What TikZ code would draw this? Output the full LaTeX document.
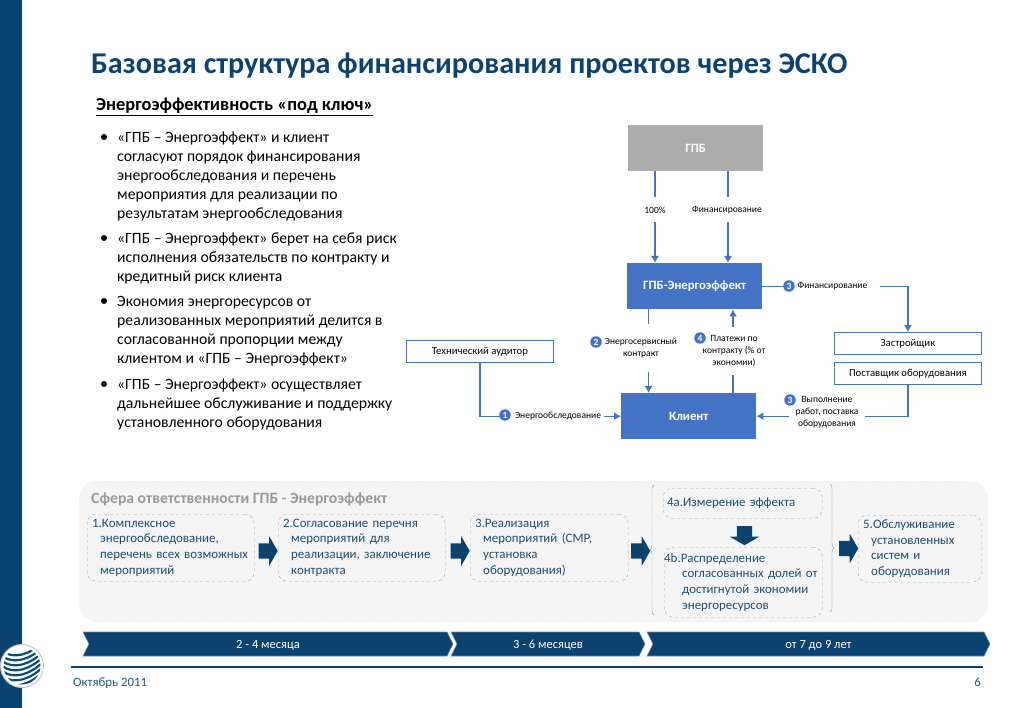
\documentclass[tikz,border=0pt]{standalone}
\usepackage{fontspec}
\setmainfont{Carlito}
\usepackage{xcolor}
\usetikzlibrary{arrows.meta,shapes.arrows,patterns,decorations.pathreplacing}
\definecolor{navy}{HTML}{0B426F}
\definecolor{boxblue}{HTML}{4472C4}
\definecolor{steptext}{HTML}{1D4F6E}
\newcommand{\hng}{\hspace*{8pt}}
\tikzset{
  mainbox/.style={fill=boxblue, text=white, font=\fontsize{12.7}{14}\selectfont\bfseries, minimum width=135, minimum height=46, anchor=north west},
  partybox/.style={draw=boxblue, thick, fill=white, font=\fontsize{10.7}{12}\selectfont, minimum width=147, minimum height=22, anchor=north west},
  flow/.style={->, color=boxblue, line width=1.2pt},
  flowlabel/.style={fill=white, inner sep=0pt, align=center, font=\fontsize{9.5}{12}\selectfont},
  numdot/.style={circle, fill=boxblue, text=white, inner sep=0pt, minimum size=11.5, font=\fontsize{9.5}{10}\selectfont\bfseries},
  bulletdot/.style={circle, fill=black, inner sep=0pt, minimum size=6},
  bullettext/.style={anchor=north west, inner sep=0pt, align=left, font=\fontsize{15.7}{19}\selectfont},
  stepbox/.style={draw=gray!70, dashed, rounded corners=9, anchor=north west, inner xsep=5pt, inner ysep=0pt, align=left, text=steptext, font=\fontsize{12.9}{15.7}\selectfont},
  steparrow/.style={single arrow, fill=navy, inner xsep=0pt, inner ysep=7.5pt, single arrow tip angle=120, single arrow head indent=0pt, minimum height=19, minimum width=28},
  barlabel/.style={text=white, font=\fontsize{12.5}{14}\selectfont}
}
\begin{document}
\begin{tikzpicture}[x=1pt, y=-1pt, >={Latex[length=7pt,width=8pt]}]
\useasboundingbox (0,0) rectangle (1023,708);

% strip and logo
\fill[navy] (0,0) rectangle (22,708);
\draw[fill=white, draw=gray!45, line width=1pt] (22,666) circle (21.5);
\begin{scope}
\clip (22,666) circle (18.5);
\foreach \d in {-15,-10,-5,0,5,10,15}
  \draw[navy!80!teal, line width=2.2pt] (2,666+\d) .. controls (14,666+\d+9) and (30,666+\d+3) .. (42,666+\d-8);
\end{scope}

% heading
\node[anchor=base west, inner sep=0pt, text=navy, font=\fontsize{30.2}{34}\selectfont\bfseries] (title) at (91,74) {Базовая структура финансирования проектов через ЭСКО};
\node[anchor=base west, inner sep=0pt, font=\fontsize{18.4}{22}\selectfont\bfseries] (subtitle) at (96,111) {\underline{Энергоэффективность «под ключ»}};

% bullets
\node[bulletdot] (b1) at (104,137) {};
\node[bullettext] (t1) at (117,132) {«ГПБ – Энергоэффект» и клиент\\согласуют порядок финансирования\\энергообследования и перечень\\мероприятия для реализации по\\результатам энергообследования};
\node[bulletdot] (b2) at (104,238) {};
\node[bullettext] (t2) at (117,233) {«ГПБ – Энергоэффект» берет на себя риск\\исполнения обязательств по контракту и\\кредитный риск клиента};
\node[bulletdot] (b3) at (104,301) {};
\node[bullettext] (t3) at (117,296) {Экономия энергоресурсов от\\реализованных мероприятий делится в\\согласованной пропорции между\\клиентом и «ГПБ – Энергоэффект»};
\node[bulletdot] (b4) at (104,384) {};
\node[bullettext] (t4) at (117,379) {«ГПБ – Энергоэффект» осуществляет\\дальнейшее обслуживание и поддержку\\установленного оборудования};

% parties
\node[mainbox, fill=gray!65] (gpb) at (628,125) {ГПБ};
\node[mainbox] (gpbe) at (627,263) {ГПБ-Энергоэффект};
\node[mainbox] (client) at (621,393) {Клиент};
\node[partybox] (audit) at (406,340) {Технический аудитор};
\node[partybox] (builder) at (834,332) {Застройщик};
\node[partybox] (vendor) at (834,362) {Поставщик оборудования};

\coordinate (c100) at (655,240);
\coordinate (cfin) at (728,240);
\coordinate (ctwo) at (648.5,350);
\coordinate (cfour) at (733,350);

\draw[flow] (c100 |- gpb.south) -- (c100 |- gpbe.north);
\draw[flow] (cfin |- gpb.south) -- (cfin |- gpbe.north);
\draw[flow] (gpbe.east) -| (builder.north);
\draw[flow] (ctwo |- gpbe.south) -- (ctwo |- client.north);
\draw[flow] (cfour |- client.north) -- (cfour |- gpbe.south);
\draw[flow] (vendor.south) |- (client.east);
\draw[flow] (audit.south) |- (client.west);

% labels over the lines
\node[flowlabel, minimum width=30, minimum height=25] (l100) at (655,210) {100\%};
\node[flowlabel, minimum height=25] (lfin) at (727,210) {Финансирование};
\node[flowlabel, minimum width=88, minimum height=20] (lfin2) at (836,286) {\hspace*{-7pt}Финансирование};
\node[flowlabel, minimum height=48] (ltwo) at (641,348) {Энергосервисный\\контракт};
\node[flowlabel, minimum height=48] (lfour) at (734,351) {Платежи по\\контракту (\% от\\экономии)};
\node[flowlabel, minimum width=76] (lthree) at (827,412) {Выполнение\\работ, поставка\\оборудования};
\node[flowlabel, minimum width=96, minimum height=14] (lone) at (556,416) {\hspace*{4pt}Энергообследование};

\node[numdot] (n1) at (505,415) {1};
\node[numdot] (n2) at (596,342) {2};
\node[numdot] (n3) at (789,286) {3};
\node[numdot] (n4) at (700,338) {4};
\node[numdot] (n5) at (790,400) {3};

% responsibility panel
\fill[gray!12, rounded corners=18] (79,481) rectangle (988,622);
\fill[pattern=north west lines, pattern color=white, rounded corners=18] (79,481) rectangle (988,622);
\node[anchor=base west, inner sep=0pt, text=gray!80, font=\fontsize{15.7}{18}\selectfont\bfseries] (scope) at (91,503) {Сфера ответственности ГПБ - Энергоэффект};

\node[stepbox, minimum width=167, minimum height=67, text width=157] (s1) at (87,514) {1.Комплексное\\\hng энергообследование,\\\hng перечень всех возможных\\\hng мероприятий};
\node[stepbox, minimum width=167, minimum height=67, text width=157] (s2) at (278,514) {2.Согласование перечня\\\hng мероприятий для\\\hng реализации, заключение\\\hng контракта};
\node[stepbox, minimum width=158, minimum height=67, text width=148] (s3) at (470,514) {3.Реализация\\\hng мероприятий (СМР,\\\hng установка\\\hng оборудования)};
\node[stepbox, minimum width=159, minimum height=30, text width=151, inner xsep=4pt] (s4a) at (663,488) {4a.Измерение эффекта};
\node[stepbox, minimum width=158, minimum height=70, text width=158, inner xsep=0pt] (s4b) at (664,547) {4b.Распределение\\\hspace*{18pt}согласованных долей от\\\hspace*{18pt}достигнутой экономии\\\hspace*{18pt}энергоресурсов};
\node[stepbox, minimum width=123, minimum height=67, text width=113] (s5) at (858,515) {5.Обслуживание\\\hng установленных\\\hng систем и\\\hng оборудования};

\node[steparrow] (a1) at (266,551) {};
\node[steparrow] (a2) at (458,551) {};
\node[steparrow] (a3) at (638.5,551) {};
\node[steparrow] (a4) at (846.5,548.5) {};
\node[steparrow, rotate=-90, minimum width=29] (a5) at (744.5,533.5) {};

\draw[gray!80, decorate, decoration={brace, amplitude=4pt}] (654,615) -- (654,485);
\draw[gray!80, decorate, decoration={brace, amplitude=4pt}] (830,484) -- (830,612);

% time bars
\foreach \lx/\rx/\nm/\txt in {83/453/bar1/2 - 4 месяца, 451/645/bar2/3 - 6 месяцев, 647/990/bar3/от 7 до 9 лет}{
  \draw[fill=navy, draw=navy!60!white, line width=0.6pt] (\lx,632) -- (\rx-6,632) -- (\rx,644) -- (\rx-6,656) -- (\lx,656) -- (\lx+6,644) -- cycle;
  \node[barlabel] (\nm) at ({(\lx+\rx)/2},645) {\txt};
}

% footer
\coordinate (footl) at (71,667);
\coordinate (footr) at (983,667);
\draw[navy, line width=1.3pt] (footl) -- (footr);
\node[anchor=base west, inner sep=0pt, text=navy!90, font=\fontsize{12.8}{14}\selectfont] (date) at (73,686) {Октябрь 2011};
\node[anchor=base east, inner sep=0pt, text=navy!90, font=\fontsize{12.8}{14}\selectfont] (page) at (981,686) {6};
\end{tikzpicture}
\end{document}
